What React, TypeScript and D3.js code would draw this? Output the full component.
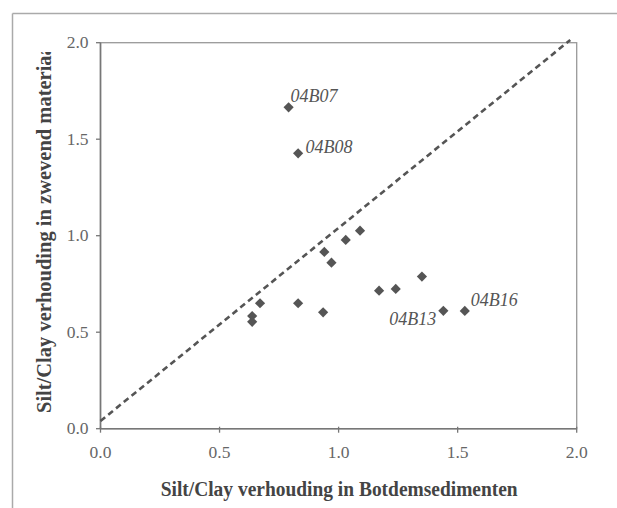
import React from "react";
import * as d3 from "d3";

const sampleX = [0.79, 0.83, 1.09, 1.03, 0.94, 0.97, 1.35, 1.24, 1.17, 0.67, 0.83, 0.935, 0.637, 0.637, 1.44, 1.53];
const sampleY = [1.665, 1.427, 1.026, 0.978, 0.916, 0.86, 0.788, 0.724, 0.715, 0.65, 0.65, 0.603, 0.584, 0.554, 0.611, 0.61];
const sampleLabels = ["04B07", "04B08", "", "", "", "", "", "", "", "", "", "", "", "", "04B13", "04B16"];
const lineX = [0, 1.973];
const lineY = [0.04, 2.014];
const xTicks = [0, 0.5, 1.0, 1.5, 2.0];
const yTicks = [0, 0.5, 1.0, 1.5, 2.0];
const xTitle = "Silt/Clay verhouding in Botdemsedimenten";
const yTitle = "Silt/Clay verhouding in zwevend materiaal";

const W = 617;
const H = 508;
const left = 100.5;
const right = 576.7;
const top = 42.7;
const bottom = 428.7;

// label placement offsets (px) relative to point
const labelDx: Record<string, number> = { "04B07": 2, "04B08": 7.5, "04B13": -7, "04B16": 6 };
const labelDy: Record<string, number> = { "04B07": -5.5, "04B08": -0.5, "04B13": 14, "04B16": -5 };
const labelAnchor: Record<string, string> = { "04B07": "start", "04B08": "start", "04B13": "end", "04B16": "start" };

export default function App() {
  const x = d3.scaleLinear().domain([0, 2]).range([left, right]);
  const y = d3.scaleLinear().domain([0, 2]).range([bottom, top]);
  const diamond = d3.symbol().type(d3.symbolSquare).size(52)();
  const line = d3
    .line<number>()
    .x((_, i) => x(lineX[i]))
    .y((d) => y(d));
  const serif = "'Liberation Serif', 'Times New Roman', serif";

  return (
    <svg width={W} height={H} style={{ position: "absolute", left: 0, top: 0, background: "#fff" }}>
      <defs>
        <clipPath id="ylabclip">
          <rect x={0} y={52} width={100} height={456} />
        </clipPath>
      </defs>
      {/* outer chart border (top and left visible) */}
      <line x1={12.5} y1={13.5} x2={W} y2={13.5} stroke="#aaa" strokeWidth={1.5} />
      <line x1={12.5} y1={13.5} x2={12.5} y2={H} stroke="#aaa" strokeWidth={1.5} />

      {/* plot frame */}
      <rect x={left} y={top} width={right - left} height={bottom - top} fill="none" stroke="#999" strokeWidth={1.3} />
      {/* axes */}
      <line x1={left} y1={bottom} x2={right} y2={bottom} stroke="#777" strokeWidth={1.6} />
      <line x1={left} y1={top} x2={left} y2={bottom} stroke="#777" strokeWidth={1.6} />

      {xTicks.map((t) => (
        <g key={"xt" + t}>
          <line x1={x(t)} y1={bottom - 2} x2={x(t)} y2={bottom + 4} stroke="#777" strokeWidth={1.3} />
          <text x={x(t)} y={458} textAnchor="middle" fontFamily={serif} fontSize={17.5} fill="#666">
            {d3.format(".1f")(t)}
          </text>
        </g>
      ))}
      {yTicks.map((t) => (
        <g key={"yt" + t}>
          <line x1={left - 4.5} y1={y(t)} x2={left} y2={y(t)} stroke="#777" strokeWidth={1.3} />
          <text x={88.5} y={y(t) + 5.6} textAnchor="end" fontFamily={serif} fontSize={17.5} fill="#666">
            {d3.format(".1f")(t)}
          </text>
        </g>
      ))}

      {/* 1:1 dashed line */}
      <path
        d={line(lineY) || ""}
        fill="none"
        stroke="#555"
        strokeWidth={2.6}
        strokeDasharray="6 4"
      />

      {/* points */}
      {sampleX.map((v, i) => (
        <path
          key={"p" + i}
          d={diamond}
          transform={`translate(${x(v)},${y(sampleY[i])}) rotate(45)`}
          fill="#555"
        />
      ))}

      {/* labels */}
      {sampleX.map((v, i) =>
        sampleLabels[i] ? (
          <text
            key={"l" + i}
            x={x(v) + labelDx[sampleLabels[i]]}
            y={y(sampleY[i]) + labelDy[sampleLabels[i]]}
            textAnchor={labelAnchor[sampleLabels[i]]}
            fontFamily={serif}
            fontStyle="italic"
            fontSize={18}
            fill="#555"
          >
            {sampleLabels[i]}
          </text>
        ) : null
      )}

      {/* axis titles */}
      <text
        x={160.7}
        y={496}
        fontFamily={serif}
        fontWeight="bold"
        fontSize={20}
        fill="#444"
        textLength={357}
        lengthAdjust="spacingAndGlyphs"
      >
        {xTitle}
      </text>
      <g clipPath="url(#ylabclip)">
        <text
          transform="translate(50.5,413) rotate(-90)"
          fontFamily={serif}
          fontWeight="bold"
          fontSize={20.5}
          fill="#444"
        >
          {yTitle}
        </text>
      </g>
    </svg>
  );
}
